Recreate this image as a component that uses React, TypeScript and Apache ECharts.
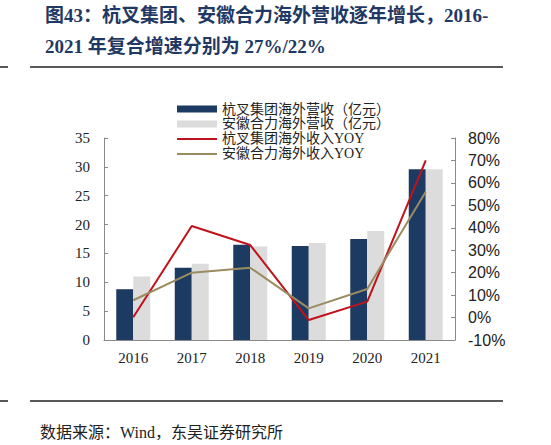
import { useEffect, useRef } from 'react'
import * as echarts from 'echarts'

const years = ['2016', '2017', '2018', '2019', '2020', '2021']
const hangchaRevenue = [8.8, 12.5, 16.5, 16.3, 17.5, 29.6]
const helliRevenue = [11.0, 13.2, 16.2, 16.8, 18.9, 29.6]
const hangchaYoy = [0.1, 40.8, 32.3, -1.1, 7.1, 70.0]
const helliYoy = [7.7, 20.0, 22.2, 4.1, 12.7, 56.1]

const names = [
  '杭叉集团海外营收（亿元）',
  '安徽合力海外营收（亿元）',
  '杭叉集团海外收入YOY',
  '安徽合力海外收入YOY'
]

const serif = '"Liberation Serif", "Noto Sans CJK SC", serif'
const axisColor = '#8a8a8a'
// thin bar used as the legend mark of the two lines
const lineIcon = 'path://M0,0L40,0L40,2L0,2Z'

function App() {
  const chartRef = useRef<HTMLDivElement>(null)

  useEffect(() => {
    document.body.style.margin = '0'
    if (!chartRef.current) return
    const chart = echarts.init(chartRef.current, undefined, { renderer: 'svg' })

    chart.setOption({
      animation: false,
      backgroundColor: '#fff',
      textStyle: { fontFamily: serif },
      legend: {
        orient: 'vertical',
        left: 172,
        top: 97,
        itemGap: 1,
        itemWidth: 40,
        itemHeight: 7,
        textStyle: { fontSize: 14, color: '#222', fontFamily: serif },
        data: [
          { name: names[0], icon: 'rect' },
          { name: names[1], icon: 'rect' },
          { name: names[2], icon: lineIcon },
          { name: names[3], icon: lineIcon }
        ]
      },
      grid: { left: 104, right: 96, top: 138, bottom: 105 },
      xAxis: {
        type: 'category',
        data: years,
        axisLine: { lineStyle: { color: axisColor } },
        axisTick: { inside: true, length: 4, lineStyle: { color: axisColor } },
        axisLabel: { fontSize: 15, color: '#222', margin: 10, fontFamily: serif }
      },
      yAxis: [
        {
          type: 'value',
          min: 0,
          max: 35,
          interval: 5,
          splitLine: { show: false },
          axisLine: { show: true, lineStyle: { color: axisColor } },
          axisTick: { show: true, inside: true, length: 4, lineStyle: { color: axisColor } },
          axisLabel: { fontSize: 15, color: '#222', margin: 14, fontFamily: serif }
        },
        {
          type: 'value',
          min: -10,
          max: 80,
          interval: 10,
          splitLine: { show: false },
          axisLine: { show: true, lineStyle: { color: axisColor } },
          axisTick: { show: true, inside: true, length: 4, lineStyle: { color: axisColor } },
          axisLabel: {
            fontSize: 16,
            color: '#222',
            margin: 13,
            formatter: '{value}%',
            fontFamily: '"Liberation Sans", Arial, sans-serif'
          }
        }
      ],
      series: [
        {
          name: names[0],
          type: 'bar',
          data: hangchaRevenue,
          barWidth: 17,
          barGap: '0%',
          itemStyle: { color: '#1d3a62' }
        },
        {
          name: names[1],
          type: 'bar',
          data: helliRevenue,
          barWidth: 17,
          barGap: '0%',
          itemStyle: { color: '#dcdcdc' }
        },
        {
          name: names[2],
          type: 'line',
          yAxisIndex: 1,
          data: hangchaYoy,
          symbol: 'none',
          lineStyle: { color: '#c0121b', width: 2 },
          itemStyle: { color: '#c0121b' }
        },
        {
          name: names[3],
          type: 'line',
          yAxisIndex: 1,
          data: helliYoy,
          symbol: 'none',
          lineStyle: { color: '#9a8c60', width: 2 },
          itemStyle: { color: '#9a8c60' }
        }
      ],
      graphic: [
        {
          type: 'text',
          left: 45,
          top: 6,
          style: {
            text: '图43：杭叉集团、安徽合力海外营收逐年增长，2016-',
            font: 'bold 19px ' + serif,
            fill: '#1f3864'
          }
        },
        {
          type: 'text',
          left: 45,
          top: 37,
          style: {
            text: '2021 年复合增速分别为 27%/22%',
            font: 'bold 19px ' + serif,
            fill: '#1f3864'
          }
        },
        { type: 'line', shape: { x1: 0, y1: 67, x2: 8, y2: 67 }, style: { stroke: '#222', lineWidth: 1.5 } },
        { type: 'line', shape: { x1: 30, y1: 67, x2: 503, y2: 67 }, style: { stroke: '#222', lineWidth: 1.5 } },
        { type: 'line', shape: { x1: 0, y1: 401, x2: 8, y2: 401 }, style: { stroke: '#222', lineWidth: 1.5 } },
        { type: 'line', shape: { x1: 30, y1: 401, x2: 503, y2: 401 }, style: { stroke: '#222', lineWidth: 1.5 } },
        {
          type: 'text',
          left: 40,
          top: 424,
          style: {
            text: '数据来源：Wind，东吴证券研究所',
            font: '16px ' + serif,
            fill: '#222'
          }
        }
      ]
    })

    return () => {
      chart.dispose()
    }
  }, [])

  return <div ref={chartRef} style={{ width: 551, height: 445 }} />
}

export default App
